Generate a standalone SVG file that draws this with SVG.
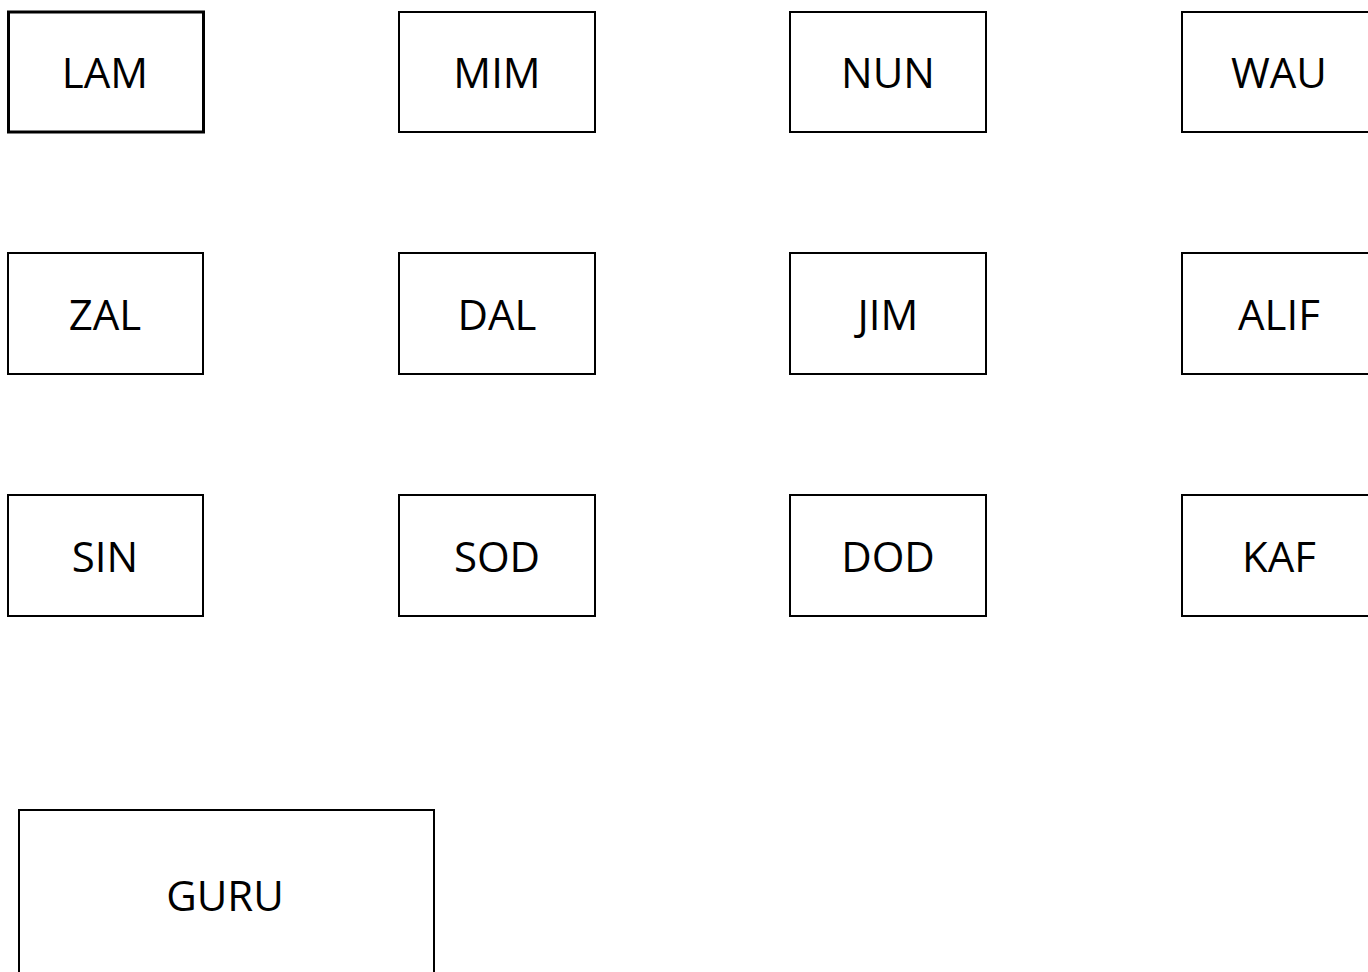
<svg xmlns="http://www.w3.org/2000/svg" width="1368" height="972" viewBox="0 0 1368 972">
<style>
.box{fill:#fff;stroke:#000;stroke-width:2}
.lbl{font-family:"Open Sans","Liberation Sans",sans-serif;font-size:42px;fill:#000;text-anchor:middle}
</style>
<rect width="1368" height="972" fill="#fff"/>
<g id="LAM"><rect class="box" x="8.5" y="12" width="195" height="120" style="stroke-width:3"/><text class="lbl" x="105" y="88">LAM</text></g>
<g id="MIM"><rect class="box" x="399" y="12" width="196" height="120"/><text class="lbl" x="497" y="88">MIM</text></g>
<g id="NUN"><rect class="box" x="790" y="12" width="196" height="120"/><text class="lbl" x="888" y="88">NUN</text></g>
<g id="WAU"><rect class="box" x="1182" y="12" width="196" height="120"/><text class="lbl" x="1279" y="88">WAU</text></g>
<g id="ZAL"><rect class="box" x="8" y="253" width="195" height="121"/><text class="lbl" x="105" y="330">ZAL</text></g>
<g id="DAL"><rect class="box" x="399" y="253" width="196" height="121"/><text class="lbl" x="497" y="330">DAL</text></g>
<g id="JIM"><rect class="box" x="790" y="253" width="196" height="121"/><text class="lbl" x="888" y="330">JIM</text></g>
<g id="ALIF"><rect class="box" x="1182" y="253" width="196" height="121"/><text class="lbl" x="1279" y="330">ALIF</text></g>
<g id="SIN"><rect class="box" x="8" y="495" width="195" height="121"/><text class="lbl" x="105" y="572">SIN</text></g>
<g id="SOD"><rect class="box" x="399" y="495" width="196" height="121"/><text class="lbl" x="497" y="572">SOD</text></g>
<g id="DOD"><rect class="box" x="790" y="495" width="196" height="121"/><text class="lbl" x="888" y="572">DOD</text></g>
<g id="KAF"><rect class="box" x="1182" y="495" width="196" height="121"/><text class="lbl" x="1279" y="572">KAF</text></g>
<g id="GURU"><rect class="box" x="19" y="810" width="415" height="180"/><text class="lbl" x="225" y="911">GURU</text></g>
<g id="connectors"></g>
</svg>
